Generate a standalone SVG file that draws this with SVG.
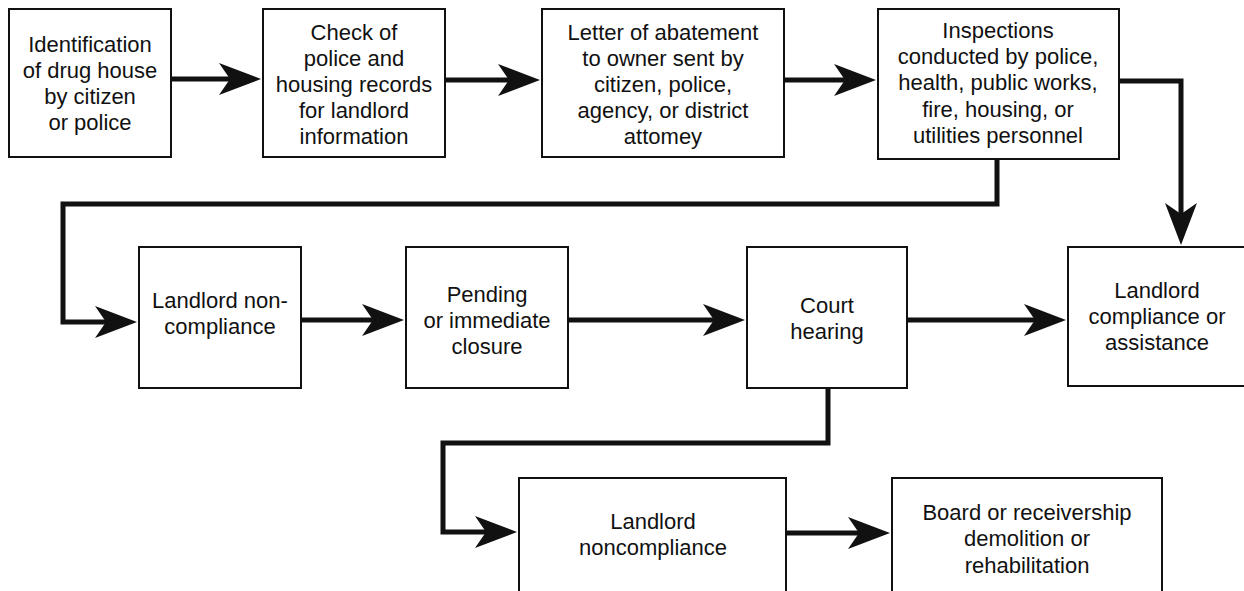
<svg xmlns="http://www.w3.org/2000/svg" width="1244" height="591" viewBox="0 0 1244 591">
<style>
.box{fill:#fff;stroke:#111;stroke-width:2}
.lbl{font-family:"Liberation Sans",Arial,sans-serif;font-size:22px;fill:#111;text-anchor:middle}
.con{fill:none;stroke:#111;stroke-width:5;stroke-linejoin:miter}
</style>
<defs>
<marker id="ah" markerUnits="userSpaceOnUse" viewBox="0 0 42 32" refX="22" refY="16" markerWidth="42" markerHeight="32" orient="auto">
<path d="M42,16 L0,0 L11,16 L0,32 Z" fill="#111"/>
</marker>
</defs>
<rect width="1244" height="591" fill="#fff"/>
<g id="connectors">
<path class="con" d="M171,79 H241" marker-end="url(#ah)"/>
<path class="con" d="M445,80 H520" marker-end="url(#ah)"/>
<path class="con" d="M784,80 H856" marker-end="url(#ah)"/>
<path class="con" d="M1119,81 H1181 V225" marker-end="url(#ah)"/>
<path class="con" d="M997,159 V204 H63 V322 H117" marker-end="url(#ah)"/>
<path class="con" d="M301,320 H384" marker-end="url(#ah)"/>
<path class="con" d="M568,320 H725" marker-end="url(#ah)"/>
<path class="con" d="M907,320 H1046" marker-end="url(#ah)"/>
<path class="con" d="M828,388 V443 H443 V532 H497" marker-end="url(#ah)"/>
<path class="con" d="M786,533 H870" marker-end="url(#ah)"/>
</g>
<g id="n1"><rect class="box" x="9" y="9" width="162" height="148"/>
<text class="lbl" x="90" y="52">Identification</text><text class="lbl" x="90" y="78">of drug house</text><text class="lbl" x="90" y="104">by citizen</text><text class="lbl" x="90" y="130">or police</text></g>
<g id="n2"><rect class="box" x="263" y="9" width="182" height="148"/>
<text class="lbl" x="354" y="40">Check of</text><text class="lbl" x="354" y="66">police and</text><text class="lbl" x="354" y="92">housing records</text><text class="lbl" x="354" y="118">for landlord</text><text class="lbl" x="354" y="144">information</text></g>
<g id="n3"><rect class="box" x="542" y="9" width="242" height="148"/>
<text class="lbl" x="663" y="40">Letter of abatement</text><text class="lbl" x="663" y="66">to owner sent by</text><text class="lbl" x="663" y="92">citizen, police,</text><text class="lbl" x="663" y="118">agency, or district</text><text class="lbl" x="663" y="144">attomey</text></g>
<g id="n4"><rect class="box" x="878" y="9" width="241" height="150"/>
<text class="lbl" x="998" y="38">Inspections</text><text class="lbl" x="998" y="64">conducted by police,</text><text class="lbl" x="998" y="90">health, public works,</text><text class="lbl" x="998" y="117">fire, housing, or</text><text class="lbl" x="998" y="143">utilities personnel</text></g>
<g id="n5"><rect class="box" x="139" y="247" width="162" height="141"/>
<text class="lbl" x="220" y="308">Landlord non-</text><text class="lbl" x="220" y="334">compliance</text></g>
<g id="n6"><rect class="box" x="406" y="247" width="162" height="141"/>
<text class="lbl" x="487" y="302">Pending</text><text class="lbl" x="487" y="328">or immediate</text><text class="lbl" x="487" y="354">closure</text></g>
<g id="n7"><rect class="box" x="747" y="247" width="160" height="141"/>
<text class="lbl" x="827" y="313">Court</text><text class="lbl" x="827" y="339">hearing</text></g>
<g id="n8"><rect class="box" x="1068" y="247" width="190" height="139"/>
<text class="lbl" x="1157" y="298">Landlord</text><text class="lbl" x="1157" y="324">compliance or</text><text class="lbl" x="1157" y="350">assistance</text></g>
<g id="n9"><rect class="box" x="519" y="478" width="267" height="130"/>
<text class="lbl" x="653" y="529">Landlord</text><text class="lbl" x="653" y="555">noncompliance</text></g>
<g id="n10"><rect class="box" x="892" y="478" width="270" height="130"/>
<text class="lbl" x="1027" y="520">Board or receivership</text><text class="lbl" x="1027" y="546">demolition or</text><text class="lbl" x="1027" y="573">rehabilitation</text></g>
</svg>
